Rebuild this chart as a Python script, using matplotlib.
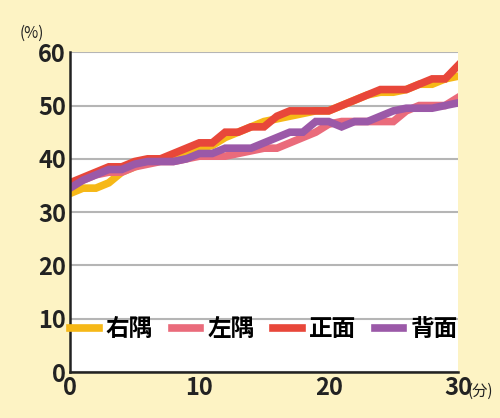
import matplotlib
matplotlib.use("Agg")
import matplotlib.pyplot as plt

plt.rcParams['font.family'] = ['Noto Sans CJK JP', 'DejaVu Sans']

minutes = list(range(31))
right_corner = [33.5,34.5,34.5,35.5,37.5,38.5,39.5,40,40,41,42,42.5,44,45,46,47,47.5,48,48.5,49,49,50,51,52,52.5,52.5,53,54,54,55,55.5]
left_corner = [35,36,37,37.5,37.5,38.5,39,39.5,39.5,40,40.5,40.5,40.5,41,41.5,42,42,43,44,45,46.5,47,47,47,47,47,49,50,50,50,51.5]
front = [35.5,36.5,37.5,38.5,38.5,39.5,40,40,41,42,43,43,45,45,46,46,48,49,49,49,49,50,51,52,53,53,53,54,55,55,57.5]
back = [34.5,36,37,38,38,39,39.5,39.5,39.5,40,41,41,42,42,42,43,44,45,45,47,47,46,47,47,48,49,49.5,49.5,49.5,50,50.5]
labels = ['右隅', '左隅', '正面', '背面']
colors = ['#f6b817', '#ea6b7b', '#e8473a', '#9b59a8']

bg = '#fdf3c4'
fig = plt.figure(figsize=(5.0, 4.18), dpi=100, facecolor=bg)
ax = fig.add_axes([0.14, 0.11, 0.776, 0.765])
ax.set_facecolor('white')
for series, c, l in zip([right_corner, left_corner, front, back], colors, labels):
    ax.plot(minutes, series, color=c, lw=5.5, label=l, solid_joinstyle='miter')
ax.set_xlim(0, 30)
ax.set_ylim(0, 60)
ax.set_yticks(range(0, 61, 10))
ax.set_xticks([0, 10, 20, 30])
ax.grid(axis='y', color='#b5b5b5', lw=1.5)
ax.set_axisbelow(True)
for s in ['top', 'right']:
    ax.spines[s].set_visible(False)
for s in ['left', 'bottom']:
    ax.spines[s].set_color('#222222')
    ax.spines[s].set_linewidth(1.8)
ax.tick_params(length=0, labelsize=17, pad=3, colors='#222222')
for t in ax.get_xticklabels() + ax.get_yticklabels():
    t.set_fontweight('bold')
fig.text(0.04, 0.91, '(%)', fontsize=11, color='#222222')
fig.text(0.935, 0.052, '(分)', fontsize=11, color='#222222')
leg = ax.legend(loc='lower center', ncol=4, frameon=False,
                handlelength=1.2, handletextpad=0.3, columnspacing=0.8,
                bbox_to_anchor=(0.5, 0.03), prop={'weight': 'bold', 'size': 17})
fig.savefig('out.png', dpi=100, facecolor=bg)
